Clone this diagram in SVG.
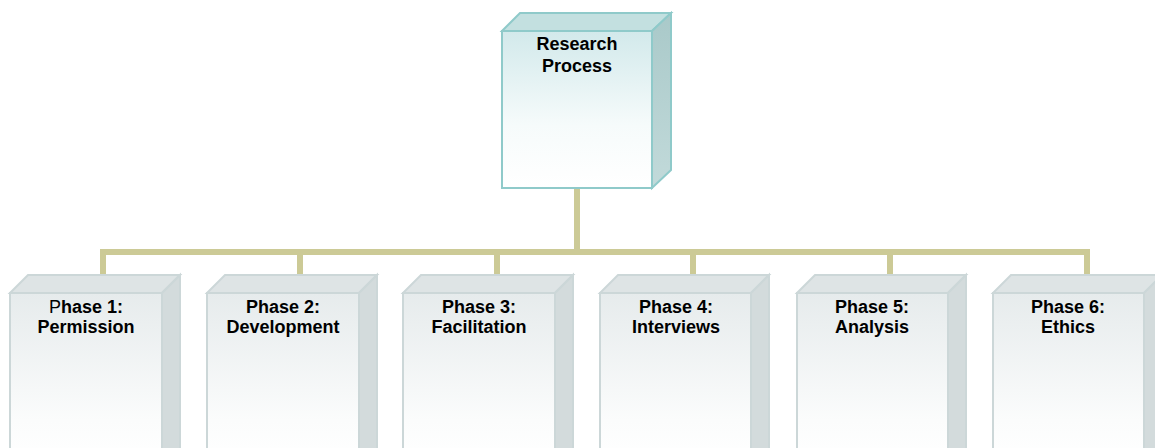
<svg xmlns="http://www.w3.org/2000/svg" width="1155" height="448" viewBox="0 0 1155 448">
<defs>
<linearGradient id="gTop" x1="0" y1="0" x2="0" y2="1">
<stop offset="0" stop-color="#D2E9EB"/>
<stop offset="0.6" stop-color="#F6FBFB"/>
<stop offset="1" stop-color="#FFFFFF"/>
</linearGradient>
<linearGradient id="gPh" x1="0" y1="0" x2="0" y2="1">
<stop offset="0" stop-color="#E6EBEC"/>
<stop offset="0.75" stop-color="#FBFCFC"/>
<stop offset="1" stop-color="#FFFFFF"/>
</linearGradient>
<linearGradient id="gSide" x1="0" y1="0" x2="0" y2="1">
<stop offset="0" stop-color="#A9C9C9"/>
<stop offset="1" stop-color="#C2DADA"/>
</linearGradient>
</defs>
<style>
.t{font-family:"Liberation Sans",Arial,sans-serif;font-weight:bold;font-size:18px;fill:#000;text-anchor:middle}
.conn{stroke:#CCCA96;stroke-width:6;fill:none}
.rtop{fill:#C3E0E0;stroke:#8FCACA;stroke-width:2;stroke-linejoin:miter}
.rside{fill:url(#gSide);stroke:#8FCACA;stroke-width:2}
.rfront{fill:url(#gTop);stroke:#8FCACA;stroke-width:2}
.ptop{fill:#DEE4E5;stroke:#CCD7D8;stroke-width:2}
.pside{fill:#D3DBDC;stroke:#CCD7D8;stroke-width:2}
.pfront{fill:url(#gPh);stroke:#CCD7D8;stroke-width:2}
</style>
<rect width="1155" height="448" fill="#FFFFFF"/>
<g id="connectors">
<path class="conn" d="M577 189 V252"/>
<path class="conn" d="M103 276 V252 H1087 V276"/>
<path class="conn" d="M300 252 V276"/>
<path class="conn" d="M497 252 V276"/>
<path class="conn" d="M693 252 V276"/>
<path class="conn" d="M890 252 V276"/>
</g>
<g id="research">
<polygon class="rtop" points="502,31 520,13 671,13 652,31"/>
<polygon class="rside" points="652,31 671,13 671,170 652,188"/>
<rect class="rfront" x="502" y="31" width="150" height="157"/>
<text class="t" x="577" y="50">Research</text>
<text class="t" x="577" y="72">Process</text>
</g>
<g id="phase1">
<polygon class="ptop" points="10,293 28,275 180,275 162,293"/>
<polygon class="pside" points="162,293 180,275 180,460 162,460"/>
<rect class="pfront" x="10" y="293" width="152" height="170"/>
<text class="t" x="86" y="313"><tspan font-weight="normal">P</tspan>hase 1:</text>
<text class="t" x="86" y="333">Permission</text>
</g>
<g id="phase2">
<polygon class="ptop" points="207,293 225,275 377,275 359,293"/>
<polygon class="pside" points="359,293 377,275 377,460 359,460"/>
<rect class="pfront" x="207" y="293" width="152" height="170"/>
<text class="t" x="283" y="313">Phase 2:</text>
<text class="t" x="283" y="333">Development</text>
</g>
<g id="phase3">
<polygon class="ptop" points="403,293 421,275 573,275 555,293"/>
<polygon class="pside" points="555,293 573,275 573,460 555,460"/>
<rect class="pfront" x="403" y="293" width="152" height="170"/>
<text class="t" x="479" y="313">Phase 3:</text>
<text class="t" x="479" y="333">Facilitation</text>
</g>
<g id="phase4">
<polygon class="ptop" points="600,293 618,275 769,275 751,293"/>
<polygon class="pside" points="751,293 769,275 769,460 751,460"/>
<rect class="pfront" x="600" y="293" width="151" height="170"/>
<text class="t" x="676" y="313">Phase 4:</text>
<text class="t" x="676" y="333">Interviews</text>
</g>
<g id="phase5">
<polygon class="ptop" points="797,293 815,275 966,275 948,293"/>
<polygon class="pside" points="948,293 966,275 966,460 948,460"/>
<rect class="pfront" x="797" y="293" width="151" height="170"/>
<text class="t" x="872" y="313">Phase 5:</text>
<text class="t" x="872" y="333">Analysis</text>
</g>
<g id="phase6">
<polygon class="ptop" points="993,293 1011,275 1162,275 1144,293"/>
<polygon class="pside" points="1144,293 1162,275 1162,460 1144,460"/>
<rect class="pfront" x="993" y="293" width="151" height="170"/>
<text class="t" x="1068" y="313">Phase 6:</text>
<text class="t" x="1068" y="333">Ethics</text>
</g>
</svg>
